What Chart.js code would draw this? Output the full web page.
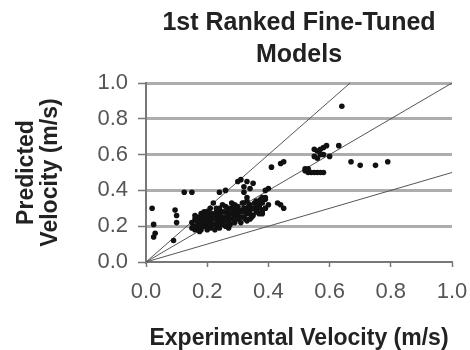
<!DOCTYPE html>
<html>
<head>
<meta charset="utf-8">
<script src="https://cdn.jsdelivr.net/npm/chart.js@4/dist/chart.umd.min.js"></script>
<style>
  html, body { margin: 0; padding: 0; background: #ffffff; }
  #wrap { width: 470px; height: 350px; }
</style>
</head>
<body>
<div id="wrap"><canvas id="c" width="470" height="350"></canvas></div>
<script>
// Experimental velocity (m/s) of each model point
const experimental = [
  0.02, 0.025, 0.03, 0.025, 0.095, 0.10, 0.10, 0.125, 0.15, 0.09,
  0.15, 0.15, 0.16, 0.16, 0.16, 0.17, 0.17, 0.17, 0.18, 0.18,
  0.18, 0.19, 0.19, 0.19, 0.20, 0.20, 0.20, 0.21, 0.21, 0.21,
  0.22, 0.22, 0.22, 0.23, 0.23, 0.23, 0.24, 0.24, 0.24, 0.25,
  0.25, 0.25, 0.26, 0.26, 0.26, 0.27, 0.27, 0.27, 0.28, 0.28,
  0.28, 0.29, 0.29, 0.30, 0.30, 0.30, 0.31, 0.31, 0.32, 0.32,
  0.33, 0.33, 0.34, 0.34, 0.35, 0.35, 0.36, 0.36, 0.37, 0.37,
  0.38, 0.38, 0.39, 0.39, 0.40, 0.38, 0.36, 0.34, 0.32, 0.29,
  0.26, 0.23, 0.20, 0.18, 0.24, 0.27, 0.21, 0.19, 0.17, 0.31,
  0.33,
  0.155, 0.165, 0.175, 0.185, 0.195, 0.205, 0.215, 0.225, 0.235, 0.245,
  0.255, 0.265, 0.275, 0.285, 0.295, 0.305, 0.315, 0.325, 0.335, 0.345,
  0.355, 0.365, 0.375, 0.16, 0.18, 0.20, 0.22, 0.24, 0.26, 0.28,
  0.30, 0.32, 0.34, 0.36, 0.21, 0.25, 0.29, 0.33, 0.27, 0.23,
  0.24, 0.26, 0.31, 0.33, 0.32, 0.34, 0.33, 0.32, 0.30, 0.35,
  0.37, 0.37, 0.38, 0.39, 0.40, 0.39, 0.38, 0.39,
  0.41, 0.44, 0.45, 0.44, 0.45, 0.43,
  0.52, 0.53, 0.54, 0.55, 0.56, 0.57, 0.58, 0.52, 0.53,
  0.55, 0.56, 0.57, 0.58, 0.59, 0.60, 0.56, 0.58, 0.57, 0.55,
  0.63, 0.64, 0.67, 0.70, 0.75, 0.79
];
// Predicted velocity (m/s) of each model point
const predicted = [
  0.30, 0.21, 0.16, 0.14, 0.29, 0.26, 0.22, 0.39, 0.39, 0.12,
  0.22, 0.19, 0.24, 0.20, 0.18, 0.21, 0.25, 0.19, 0.22, 0.27,
  0.18, 0.20, 0.24, 0.28, 0.21, 0.18, 0.25, 0.23, 0.30, 0.19,
  0.21, 0.26, 0.33, 0.24, 0.20, 0.28, 0.22, 0.30, 0.26, 0.21,
  0.25, 0.32, 0.23, 0.28, 0.20, 0.25, 0.30, 0.22, 0.27, 0.24,
  0.33, 0.22, 0.29, 0.26, 0.24, 0.31, 0.28, 0.22, 0.25, 0.30,
  0.27, 0.23, 0.29, 0.32, 0.26, 0.30, 0.28, 0.34, 0.31, 0.27,
  0.33, 0.36, 0.30, 0.35, 0.32, 0.29, 0.31, 0.27, 0.33, 0.25,
  0.31, 0.30, 0.28, 0.25, 0.24, 0.27, 0.26, 0.22, 0.23, 0.25,
  0.30,
  0.20, 0.23, 0.17, 0.21, 0.26, 0.23, 0.27, 0.18, 0.22, 0.28,
  0.23, 0.26, 0.21, 0.31, 0.27, 0.29, 0.33, 0.24, 0.31, 0.25,
  0.33, 0.30, 0.35, 0.26, 0.20, 0.23, 0.24, 0.19, 0.24, 0.30,
  0.28, 0.28, 0.24, 0.29, 0.21, 0.28, 0.32, 0.34, 0.19, 0.26,
  0.39, 0.40, 0.46, 0.45, 0.42, 0.41, 0.36, 0.39, 0.45, 0.44,
  0.34, 0.31, 0.28, 0.36, 0.41, 0.40, 0.27, 0.30,
  0.53, 0.55, 0.56, 0.32, 0.30, 0.33,
  0.51, 0.50, 0.50, 0.50, 0.50, 0.50, 0.50, 0.52, 0.52,
  0.59, 0.62, 0.63, 0.64, 0.65, 0.59, 0.58, 0.60, 0.60, 0.63,
  0.65, 0.87, 0.56, 0.54, 0.54, 0.56
];
// Reference lines through the origin (x, y endpoints)
const upperLineX = [0, 0.667];
const upperLineY = [0, 1.0];
const unityLineX = [0, 1.0];
const unityLineY = [0, 1.0];
const lowerLineX = [0, 1.0];
const lowerLineY = [0, 0.5];
// Axis tick values
const xTicks = [0.0, 0.2, 0.4, 0.6, 0.8, 1.0];
const yTicks = [0.0, 0.2, 0.4, 0.6, 0.8, 1.0];

const toPts = (xs, ys) => xs.map((x, i) => ({ x: x, y: ys[i] }));
const FONT = '"Liberation Sans", Arial, Helvetica, sans-serif';

const refLine = (xs, ys) => ({
  type: 'scatter',
  data: toPts(xs, ys),
  showLine: true,
  borderColor: '#555555',
  borderWidth: 1,
  pointRadius: 0,
  fill: false
});

new Chart(document.getElementById('c'), {
  type: 'scatter',
  data: {
    datasets: [
      {
        data: toPts(experimental, predicted),
        backgroundColor: '#111111',
        borderWidth: 0,
        pointRadius: 2.8,
        pointHoverRadius: 2.8
      },
      refLine(upperLineX, upperLineY),
      refLine(unityLineX, unityLineY),
      refLine(lowerLineX, lowerLineY)
    ]
  },
  options: {
    responsive: false,
    animation: false,
    events: [],
    layout: { padding: { left: 0, right: 0, top: 0, bottom: 0 } },
    plugins: {
      legend: { display: false },
      tooltip: { enabled: false },
      title: {
        display: true,
        fullSize: false,
        text: ['1st Ranked Fine-Tuned', 'Models'],
        color: '#222222',
        font: { family: FONT, size: 25, weight: 'bold', lineHeight: '32px' },
        padding: { top: 7, bottom: 12 }
      }
    },
    scales: {
      x: {
        type: 'linear',
        min: 0, max: 1,
        afterBuildTicks: (s) => { s.ticks = xTicks.map(v => ({ value: v })); },
        afterFit: (s) => { s.height = 88; s.paddingRight = 18; },
        ticks: {
          color: '#555555',
          font: { family: FONT, size: 22 },
          padding: 12,
          maxRotation: 0,
          callback: (v) => Number(v).toFixed(1)
        },
        grid: {
          drawOnChartArea: false,
          drawTicks: true,
          tickLength: 5,
          tickColor: '#777777',
          tickWidth: 1.5
        },
        border: { display: true, color: '#777777', width: 2 },
        title: {
          display: true,
          text: 'Experimental Velocity (m/s)',
          color: '#222222',
          font: { family: FONT, size: 23, weight: 'bold', lineHeight: '20px' },
          padding: { top: 0, bottom: 1 }
        }
      },
      y: {
        type: 'linear',
        min: 0, max: 1,
        afterBuildTicks: (s) => { s.ticks = yTicks.map(v => ({ value: v })); },
        afterFit: (s) => { s.width = 146; },
        ticks: {
          color: '#555555',
          font: { family: FONT, size: 22 },
          padding: 10,
          callback: (v) => Number(v).toFixed(1)
        },
        grid: {
          color: (ctx) => ctx.tick && ctx.tick.value === 0 ? 'rgba(0,0,0,0)' : '#adadad',
          lineWidth: 3,
          drawTicks: true,
          tickLength: 8,
          tickColor: '#777777',
          tickWidth: 1.5
        },
        border: { display: true, color: '#777777', width: 2 },
        title: {
          display: true,
          text: ['Predicted', 'Velocity (m/s)'],
          color: '#222222',
          font: { family: FONT, size: 23, weight: 'bold', lineHeight: '24px' },
          padding: { top: 15, bottom: 0 }
        }
      }
    }
  }
});
</script>
</body>
</html>
